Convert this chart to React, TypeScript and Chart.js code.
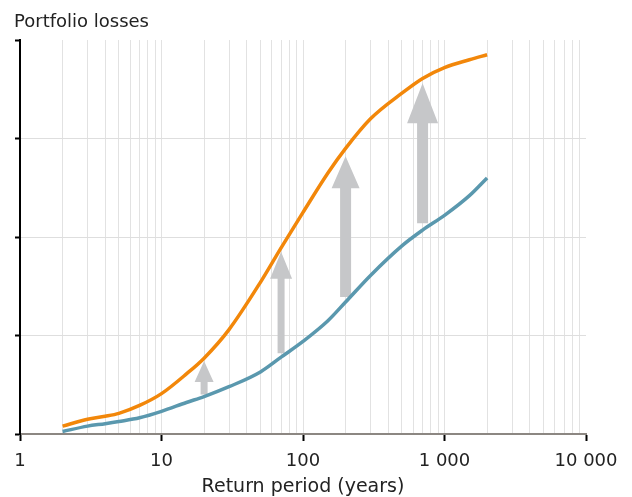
import React, { useEffect, useRef } from "react";
import { Chart, registerables } from "chart.js";

Chart.register(...registerables);

// ---- data ----
const returnPeriods = [2, 3, 4, 5, 7, 10, 15, 20, 30, 50, 70, 100, 150, 200, 300, 500, 700, 1000, 1500, 2000];
const scenarioLosses = [0.08, 0.15, 0.18, 0.21, 0.29, 0.41, 0.61, 0.77, 1.06, 1.54, 1.89, 2.25, 2.65, 2.9, 3.2, 3.46, 3.61, 3.72, 3.8, 3.85];
const baselineLosses = [0.025, 0.08, 0.105, 0.127, 0.165, 0.23, 0.32, 0.38, 0.48, 0.63, 0.78, 0.94, 1.15, 1.34, 1.61, 1.91, 2.07, 2.22, 2.42, 2.6];

const xTickValues = [1, 10, 100, 1000, 10000];
const xTickLabels = ["1", "10", "100", "1 000", "10 000"];
const yTickValues = [0, 1, 2, 3, 4];

const arrowPeriods = [20, 70, 200, 700];
const arrowFrom = [0.4, 0.82, 1.39, 2.14];
const arrowTo = [0.74, 1.85, 2.82, 3.56];

const titleText = "Portfolio losses";
const xTitleText = "Return period (years)";

// ---- styles ----
const ORANGE = "#f2870a";
const BLUE = "#5a98ae";
const ARROW_COLOR = "#c6c7c9";
const ARROW_SHAFT = [7, 7, 11, 11];
const ARROW_HEAD = [19, 22, 28, 31];
const ARROW_HEAD_LEN = [21, 27, 32, 40];
const FONT = "'DejaVu Sans', Verdana, sans-serif";

const minorTicks: number[] = [];
for (let d = 1; d < 10000; d *= 10) {
  for (let k = 1; k <= 9; k++) minorTicks.push(d * k);
}
minorTicks.push(10000);

const arrowPlugin = {
  id: "arrows",
  beforeDatasetsDraw(chart: any) {
    const { ctx, scales } = chart;
    const x = scales.x;
    const y = scales.y;
    ctx.save();
    ctx.fillStyle = ARROW_COLOR;
    arrowPeriods.forEach((p, i) => {
      const cx = x.getPixelForValue(p);
      const yb = y.getPixelForValue(arrowFrom[i]);
      const yt = y.getPixelForValue(arrowTo[i]);
      const sw = ARROW_SHAFT[i] / 2;
      const hw = ARROW_HEAD[i] / 2;
      const hl = ARROW_HEAD_LEN[i];
      ctx.beginPath();
      ctx.moveTo(cx - sw, yb);
      ctx.lineTo(cx - sw, yt + hl);
      ctx.lineTo(cx - hw, yt + hl);
      ctx.lineTo(cx, yt);
      ctx.lineTo(cx + hw, yt + hl);
      ctx.lineTo(cx + sw, yt + hl);
      ctx.lineTo(cx + sw, yb);
      ctx.closePath();
      ctx.fill();
    });
    ctx.restore();
  },
};

const titlePlugin = {
  id: "topTitle",
  afterDraw(chart: any) {
    const { ctx } = chart;
    ctx.save();
    ctx.font = `18px ${FONT}`;
    ctx.fillStyle = "#222";
    ctx.textBaseline = "alphabetic";
    ctx.textAlign = "left";
    ctx.fillText(titleText, 14, 27);
    ctx.restore();
  },
};

export default function App() {
  const ref = useRef<HTMLCanvasElement | null>(null);
  useEffect(() => {
    document.body.style.margin = "0";
    if (!ref.current) return;
    const chart = new Chart(ref.current, {
      type: "line",
      data: {
        datasets: [
          {
            label: "Scenario",
            data: returnPeriods.map((p, i) => ({ x: p, y: scenarioLosses[i] })),
            borderColor: ORANGE,
            borderWidth: 3.5,
            pointRadius: 0,
            cubicInterpolationMode: "monotone",
          },
          {
            label: "Baseline",
            data: returnPeriods.map((p, i) => ({ x: p, y: baselineLosses[i] })),
            borderColor: BLUE,
            borderWidth: 3.5,
            pointRadius: 0,
            cubicInterpolationMode: "monotone",
          },
        ],
      },
      options: {
        animation: false,
        responsive: false,
        layout: { padding: { left: 0, top: 40, right: 46, bottom: 0 } },
        plugins: { legend: { display: false }, tooltip: { enabled: false } },
        scales: {
          x: {
            type: "logarithmic",
            min: 1,
            max: 10000,
            afterBuildTicks: (scale: any) => {
              scale.ticks = minorTicks.map((v) => ({ value: v }));
            },
            afterFit: (scale: any) => {
              scale.height = 63;
            },
            border: { color: "#8c8782", width: 2 },
            grid: {
              color: (c: any) => {
                const v = c.tick ? c.tick.value : 0;
                return v === 1 || v === 10000 ? "rgba(0,0,0,0)" : "#e2e2e2";
              },
              lineWidth: 1,
              drawTicks: true,
              tickLength: 7,
              tickWidth: 2,
              tickColor: (c: any) => {
                const v = c.tick ? c.tick.value : 0;
                return xTickValues.includes(v) ? "#000" : "rgba(0,0,0,0)";
              },
            },
            ticks: {
              autoSkip: false,
              maxRotation: 0,
              padding: 10,
              color: "#222",
              font: { family: FONT, size: 18 },
              callback: (value: any) => {
                const idx = xTickValues.indexOf(Number(value));
                return idx >= 0 ? xTickLabels[idx] : "";
              },
            },
            title: {
              display: true,
              text: xTitleText,
              color: "#222",
              font: { family: FONT, size: 19, lineHeight: 1 },
              padding: { top: 0, bottom: 0 },
            },
          },
          y: {
            min: 0,
            max: 4,
            afterBuildTicks: (scale: any) => {
              scale.ticks = yTickValues.map((v) => ({ value: v }));
            },
            afterFit: (scale: any) => {
              scale.width = 20;
            },
            border: { color: "#000", width: 2 },
            grid: {
              color: (c: any) => {
                const v = c.tick ? c.tick.value : 0;
                return v === 0 || v === 4 ? "rgba(0,0,0,0)" : "#dedede";
              },
              lineWidth: 1,
              drawTicks: true,
              tickLength: 5,
              tickWidth: 2,
              tickColor: "#000",
            },
            ticks: { display: false },
          },
        },
      },
      plugins: [arrowPlugin, titlePlugin],
    });
    return () => chart.destroy();
  }, []);
  return <canvas ref={ref} width={632} height={497} style={{ display: "block" }} />;
}
